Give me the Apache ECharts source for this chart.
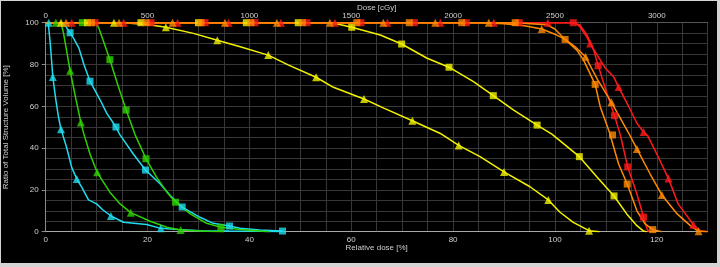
<!DOCTYPE html>
<html>
<head>
<meta charset="utf-8">
<script src="https://cdn.jsdelivr.net/npm/echarts@6/dist/echarts.min.js"></script>
<style>
    html, body { margin: 0; padding: 0; background: #d4d4d4; width: 720px; height: 267px; overflow: hidden; }
    #chart { position: absolute; left: 1px; top: 1px; width: 716px; height: 262px; background: #000; }
</style>
</head>
<body>
<div id="chart"></div>
<script>
// relative dose [%] , volume [%]
var xTicks = [0, 20, 40, 60, 80, 100, 120];
var yTicks = [0, 20, 40, 60, 80, 100];
var doseTicks = [0, 500, 1000, 1500, 2000, 2500, 3000];

var cyanTriLine = [[0,100],[0.5,100],[0.9,90],[1.4,74],[2.0,63],[2.5,55],[3.0,49],[3.3,46.7],[4.1,40.4],[5.1,30.8],[6.1,25.2],[7.1,21.2],[8.4,15.2],[10,13.3],[11.2,10.5],[12.8,7.5],[15.3,4.5],[19.8,3.4],[22.6,1.6],[26,1.0],[30.3,0.5],[36,0.3],[42,0.2],[46,0]];
var cyanTriMarks = [[0.6,100],[1.4,74],[3.0,49],[6.1,25.2],[12.8,7.5],[22.6,1.6]];

var cyanSqLine = [[0,100],[3.4,100],[4.0,98],[4.8,95.2],[5.6,92],[6.5,88],[7.5,80],[8.7,72],[10.7,63],[12,56.6],[13.8,50.1],[14.5,46.7],[17.2,37.2],[19.6,29.5],[22.5,22.8],[24.5,17.2],[26.8,11.8],[30.3,6.9],[32.9,4],[36.1,2.7],[38.2,1.6],[42,0.8],[46.5,0.3]];
var cyanSqMarks = [[4.8,95.2],[8.7,72],[13.8,50.1],[19.6,29.5],[26.8,11.8],[36.1,2.7],[46.5,0.3]];

var greenTriLine = [[0,100],[3.0,100],[3.5,95],[4.8,77],[5.8,65],[6.9,52.3],[7.5,46.7],[8.7,37.2],[10.1,28.4],[12.6,18.9],[14.6,13.3],[16.7,9.1],[20.5,5],[23.8,2.1],[26.5,0.8],[31.6,0.2],[35,0]];
var greenTriMarks = [[2.0,100],[4.8,77],[6.9,52.3],[10.1,28.4],[16.7,9.1],[26.5,0.8]];

var greenSqLine = [[0,100],[9.8,100],[10.5,97],[11.5,90],[12.6,82.3],[14.2,70],[15.8,58.2],[17.5,46.7],[19.7,34.9],[21.8,26],[23.8,18.9],[25.5,14.1],[28.4,8.5],[31.6,4],[34.4,2.1],[38.2,1],[42,0.3],[44,0]];
var greenSqMarks = [[7.2,100],[12.6,82.3],[15.8,58.2],[19.7,34.9],[25.5,14.1],[34.4,2.1]];

var yellowTriLine = [[0,100],[15,100],[17.2,99.6],[20,99.1],[23.6,97.8],[29,94.9],[33.7,91.6],[38.2,88.5],[43.7,84.5],[47.6,79.8],[53.1,73.9],[56.5,69.1],[62.5,63.5],[66.5,59],[72,53.1],[77.5,47],[81.1,41.3],[85.3,35.9],[90,28.6],[95.1,21.5],[98.7,15.2],[101,9.3],[103.6,4.5],[106.7,0.5],[108.8,0]];
var yellowTriMarks = [[3.0,100],[13.4,100],[23.6,97.8],[33.7,91.6],[43.7,84.5],[53.1,73.9],[62.5,63.5],[72,53.1],[81.1,41.3],[90,28.6],[98.7,15.2],[106.7,0.5]];

var yellowSqLine = [[0,100],[55,100],[57.5,99.3],[60.1,97.8],[65.7,94.1],[69.9,89.8],[74.9,83],[79.2,78.7],[84,71.8],[87.9,65.1],[91.9,58.2],[96.5,51],[99.4,46.7],[104.8,35.9],[108.3,26],[111.6,17.1],[114.1,8.5],[116.1,2.9],[117.4,0.3],[118,0]];
var yellowSqMarks = [[8.2,100],[18.7,100],[30.0,100],[39.4,100],[49.6,100],[60.1,97.8],[69.9,89.8],[79.2,78.7],[87.9,65.1],[96.5,51],[104.8,35.9],[111.6,17.1]];

var redSqLine = [[0,100],[103.6,100],[104.9,98.9],[106.3,94.1],[107.6,86.9],[108.5,79.4],[110.2,66.2],[111.7,55.5],[112.8,46.7],[114.3,31],[116.1,18],[117.4,7],[118.1,1.3],[118.5,0]];
var redSqMarks = [[9.7,100],[20.7,100],[31.3,100],[41.1,100],[51.3,100],[61.9,100],[72.4,100],[82.6,100],[93.0,100],[103.6,100],[108.5,79.4],[111.7,55.5],[114.3,31],[117.4,7]];

var redTriLine = [[0,100],[104,100],[104.9,98.1],[106.3,93],[106.9,90.1],[108.3,84.5],[109.9,78.2],[111.5,74.2],[112.5,69.2],[114.5,59.8],[116.1,51.9],[117.4,47.7],[118.2,46],[120,37.2],[122.3,25.4],[124.2,13.3],[127.2,3.3],[128.5,0.5],[130,0]];
var redTriMarks = [[5.1,100],[15.3,100],[25.9,100],[35.9,100],[46.2,100],[56.8,100],[67.1,100],[77.5,100],[88.0,100],[98.6,100],[106.9,90.1],[112.5,69.2],[117.4,47.7],[122.3,25.4],[127.2,3.3]];

var orangeSqLine = [[0,100],[88,100],[93,99.8],[96,99.4],[98.4,99],[100,97],[102,92],[104.3,86.9],[105.6,82.2],[107.9,70.5],[108.9,59.8],[110.7,47.6],[112.5,32.4],[114.2,22.8],[116.1,10],[117.7,3.7],[119.2,1],[121,0]];
var orangeSqMarks = [[9.0,100],[19.7,100],[30.5,100],[40.3,100],[50.4,100],[61.1,100],[71.4,100],[81.7,100],[92.2,100],[102,92],[107.9,70.5],[111.3,46.3],[114.2,22.8],[119.2,1]];

var orangeTriLine = [[0,100],[85,100],[90,99.5],[94,98.5],[97.4,97],[100,94.5],[102,92],[104,88.5],[106,83.7],[108.4,72.6],[111.1,61.9],[114.5,47.1],[116.1,39.6],[118.7,27.6],[121,17.6],[124,8.5],[126.6,2.9],[128.2,0.2],[130,0]];
var orangeTriMarks = [[4.0,100],[14.4,100],[24.9,100],[35.2,100],[45.4,100],[55.8,100],[66.3,100],[76.5,100],[87.0,100],[97.4,97],[106,83.7],[111.1,61.9],[116.1,39.6],[121,17.6],[128.2,0.2]];

var curves = [
    { line: cyanTriLine, marks: cyanTriMarks, color: '#1fdcf0', symbol: 'triangle' },
    { line: cyanSqLine, marks: cyanSqMarks, color: '#1fdcf0', symbol: 'rect' },
    { line: greenTriLine, marks: greenTriMarks, color: '#2fd000', symbol: 'triangle' },
    { line: greenSqLine, marks: greenSqMarks, color: '#2fd000', symbol: 'rect' },
    { line: yellowTriLine, marks: yellowTriMarks, color: '#f2f200', symbol: 'triangle' },
    { line: yellowSqLine, marks: yellowSqMarks, color: '#f2f200', symbol: 'rect' },
    { line: redSqLine, marks: redSqMarks, color: '#ff1a1a', symbol: 'rect' },
    { line: redTriLine, marks: redTriMarks, color: '#ff1a1a', symbol: 'triangle' },
    { line: orangeSqLine, marks: orangeSqMarks, color: '#ff8a00', symbol: 'rect' },
    { line: orangeTriLine, marks: orangeTriMarks, color: '#ff8a00', symbol: 'triangle' }
];

var textColor = '#cfcfcf';
var font = 'Liberation Sans';
var gridColor = '#383838';

var series = [];
curves.forEach(function (c) {
    series.push({
        type: 'line',
        data: c.line,
        symbol: 'none',
        lineStyle: { color: c.color, width: 1.5 },
        z: 2
    });
});
curves.forEach(function (c) {
    series.push({
        type: 'scatter',
        data: c.marks,
        symbol: c.symbol,
        symbolSize: c.symbol === 'rect' ? 7 : 8,
        itemStyle: { color: c.color },
        z: 3
    });
});

var myChart = echarts.init(document.getElementById('chart'));
myChart.setOption({
    animation: false,
    backgroundColor: '#000',
    grid: { left: 44.7, right: 9.3, top: 21.7, bottom: 31.3, outerBoundsMode: 'none' },
    xAxis: [
        {
            type: 'value', position: 'bottom', min: 0, max: 130, interval: 20,
            name: 'Relative dose [%]', nameLocation: 'middle', nameGap: 12, nameMoveOverlap: false,
            nameTextStyle: { color: textColor, fontFamily: font, fontSize: 8 },
            axisLine: { lineStyle: { color: '#a8a8a8', width: 1 } },
            axisTick: { show: false },
            axisLabel: {
                color: textColor, fontFamily: font, fontSize: 8, margin: 4,
                formatter: function (v) { return xTicks.indexOf(v) >= 0 ? String(v) : ''; }
            },
            splitLine: { show: false }
        },
        {
            type: 'value', position: 'top', min: 0, max: 3250, interval: 500,
            name: 'Dose [cGy]', nameLocation: 'middle', nameGap: 11, nameMoveOverlap: false,
            nameTextStyle: { color: textColor, fontFamily: font, fontSize: 8 },
            axisLine: { lineStyle: { color: '#555' } },
            axisTick: { show: false },
            axisLabel: {
                color: textColor, fontFamily: font, fontSize: 8, margin: 3,
                formatter: function (v) { return doseTicks.indexOf(v) >= 0 ? String(v) : ''; }
            },
            splitLine: { show: false }
        },
        {
            type: 'value', position: 'bottom', min: 0, max: 130, interval: 5,
            axisLine: { show: false }, axisTick: { show: false }, axisLabel: { show: false },
            splitLine: { show: true, lineStyle: { color: gridColor, width: 1 } }
        }
    ],
    yAxis: [
        {
            type: 'value', min: 0, max: 100, interval: 20,
            name: 'Ratio of Total Structure Volume [%]', nameLocation: 'middle', nameGap: 36,
            nameTextStyle: { color: textColor, fontFamily: font, fontSize: 8 },
            axisLine: { show: true, lineStyle: { color: '#8a8a8a' } },
            axisTick: { show: true, length: 4, lineStyle: { color: '#8a8a8a' } },
            axisLabel: {
                color: textColor, fontFamily: font, fontSize: 8, margin: 7,
                formatter: function (v) { return yTicks.indexOf(v) >= 0 ? String(v) : ''; }
            },
            splitLine: { show: true, lineStyle: { color: gridColor } },
            minorTick: { show: false, splitNumber: 4 },
            minorSplitLine: { show: true, lineStyle: { color: gridColor } }
        }
    ],
    series: series
});
</script>
</body>
</html>
